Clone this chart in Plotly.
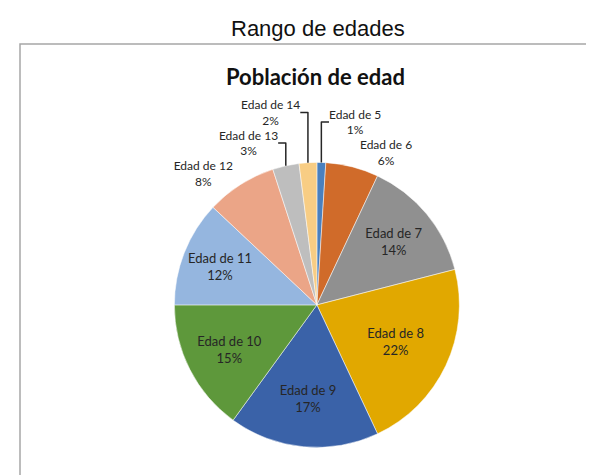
import plotly.graph_objects as go

labels = ["Edad de 5", "Edad de 6", "Edad de 7", "Edad de 8", "Edad de 9",
          "Edad de 10", "Edad de 11", "Edad de 12", "Edad de 13", "Edad de 14"]
values = [1, 6, 14, 22, 17, 15, 12, 8, 3, 2]
colors = ["#4a80be", "#d06b2a", "#909090", "#e1a800", "#3a62a8",
          "#5e983b", "#95b6df", "#eba587", "#bebebe", "#f8cd84"]
positions = ["outside", "outside", "inside", "inside", "inside",
             "inside", "inside", "outside", "outside", "outside"]

fig = go.Figure(go.Pie(
    labels=labels, values=values, sort=False, direction="clockwise", rotation=0,
    marker=dict(colors=colors, line=dict(color="white", width=0.5)),
    texttemplate="%{label}<br>%{percent:.0%}",
    textposition=positions,
    insidetextorientation="horizontal",
    textfont=dict(family="Lato", size=13, color="#262626"),
    insidetextfont=dict(family="Lato", size=13, color="#262626"),
    outsidetextfont=dict(family="Lato", size=12, color="#262626"),
    domain=dict(x=[0.24, 0.80], y=[0.075, 0.675]),
    showlegend=False, hoverinfo="label+percent",
))

fig.update_layout(
    width=594, height=475, margin=dict(l=0, r=0, t=0, b=0),
    paper_bgcolor="white", plot_bgcolor="white",
    shapes=[dict(type="rect", xref="paper", yref="paper",
                 x0=12/594, x1=1.2, y0=-0.2, y1=1-36/475,
                 line=dict(color="#a6a6a6", width=1.5))],
    annotations=[
        dict(text="Rango de edades", x=310/594, y=1-20/475, xref="paper", yref="paper",
             showarrow=False, font=dict(family="Liberation Sans", size=22, color="#111111"),
             xanchor="center", yanchor="middle"),
        dict(text="<b>Población de edad</b>", x=307/594, y=1-68/475, xref="paper", yref="paper",
             showarrow=False, font=dict(family="Lato", size=22, color="#111111"),
             xanchor="center", yanchor="middle"),
    ],
)

fig.write_html("out.html")
